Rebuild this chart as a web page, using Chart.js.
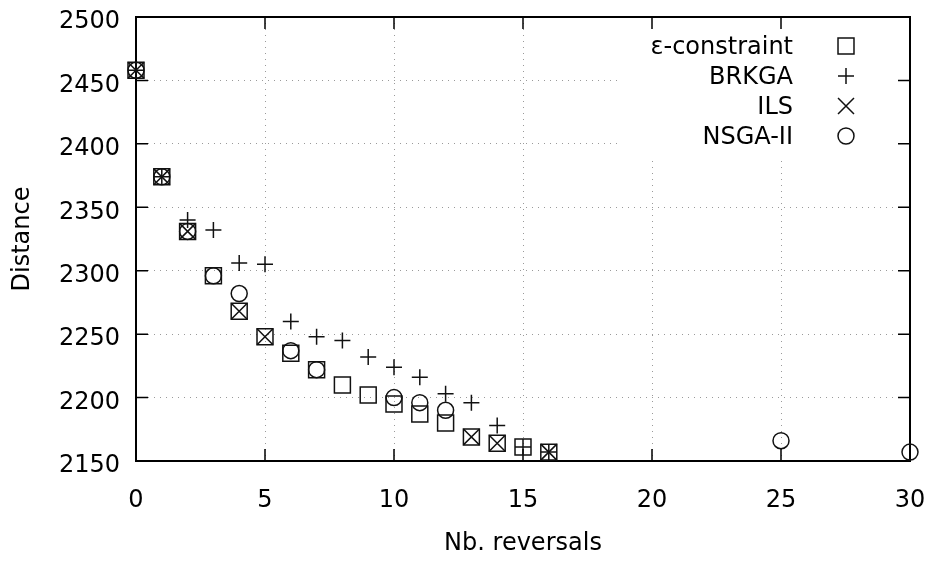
<!DOCTYPE html>
<html>
<head>
<meta charset="utf-8">
<script src="https://cdn.jsdelivr.net/npm/chart.js@4/dist/chart.umd.min.js"></script>
<style>
  body { margin: 0; background: #fff; }
  canvas { display: block; }
</style>
</head>
<body>
<canvas id="chart" width="934" height="561"></canvas>
<script>
// values
const epsReversals = [0, 1, 2, 3, 4, 5, 6, 7, 8, 9, 10, 11, 12, 13, 14, 15, 16];
const epsDistance = [2458, 2374, 2331, 2296, 2268, 2248, 2235, 2222, 2210, 2202, 2195, 2187, 2180, 2169, 2164, 2161, 2157];

const brkgaReversals = [0, 1, 2, 3, 4, 5, 6, 7, 8, 9, 10, 11, 12, 13, 14, 15, 16];
const brkgaDistance = [2458, 2374, 2340, 2332, 2306, 2305, 2260, 2248, 2245, 2232, 2224, 2216, 2203, 2196, 2178, 2161, 2157];

const ilsReversals = [0, 1, 2, 4, 5, 13, 14, 16];
const ilsDistance = [2458, 2374, 2331, 2268, 2248, 2169, 2164, 2157];

const nsgaReversals = [0, 1, 2, 3, 4, 6, 7, 10, 11, 12, 25, 30];
const nsgaDistance = [2458, 2374, 2331, 2296, 2282, 2237, 2222, 2200, 2196, 2190, 2166, 2157];

const seriesNames = ['ε-constraint', 'BRKGA', 'ILS', 'NSGA-II'];
const xTicks = [0, 5, 10, 15, 20, 25, 30];
const yTicks = [2150, 2200, 2250, 2300, 2350, 2400, 2450, 2500];

const FONT = 'DejaVu Sans';
const FSIZE = 24;

function toPoints(xs, ys) {
    return xs.map((x, i) => ({ x: x, y: ys[i] }));
}

function makeSet(label, xs, ys, style, radius) {
    return {
        label: label,
        data: toPoints(xs, ys),
        pointStyle: style,
        pointRadius: radius,
        pointHoverRadius: radius,
        pointBorderWidth: 1.5,
        borderColor: '#111',
        backgroundColor: 'rgba(0,0,0,0)',
        showLine: false,
        clip: false
    };
}

// gnuplot-like frame, inward ticks, and the key in the top-right corner
const framePlugin = {
    id: 'frame',
    beforeDatasetsDraw(chart) {
        const ctx = chart.ctx;
        const a = chart.chartArea;
        const xs = chart.scales.x;
        const ys = chart.scales.y;
        ctx.save();
        // key background hides the grid
        ctx.fillStyle = '#fff';
        ctx.fillRect(620, a.top + 1, a.right - 620 - 1, 158 - a.top);
        ctx.strokeStyle = '#000';
        ctx.lineWidth = 1.5;
        ctx.beginPath();
        xTicks.forEach(v => {
            const p = xs.getPixelForValue(v);
            ctx.moveTo(p, a.bottom); ctx.lineTo(p, a.bottom - 12);
            ctx.moveTo(p, a.top); ctx.lineTo(p, a.top + 12);
        });
        yTicks.forEach(v => {
            const p = ys.getPixelForValue(v);
            ctx.moveTo(a.left, p); ctx.lineTo(a.left + 12, p);
            ctx.moveTo(a.right, p); ctx.lineTo(a.right - 12, p);
        });
        ctx.stroke();
        ctx.lineWidth = 2;
        ctx.strokeRect(a.left, a.top, a.right - a.left, a.bottom - a.top);
        ctx.restore();
    },
    afterDraw(chart) {
        const ctx = chart.ctx;
        ctx.save();
        ctx.font = FSIZE + 'px "' + FONT + '"';
        ctx.textAlign = 'right';
        ctx.textBaseline = 'middle';
        ctx.strokeStyle = '#111';
        ctx.lineWidth = 1.5;
        chart.data.datasets.forEach((ds, i) => {
            const y = 46 + i * 30;
            ctx.fillStyle = '#000';
            ctx.fillText(ds.label, 793, y + 2);
            ctx.fillStyle = 'rgba(0,0,0,0)';
            Chart.helpers.drawPoint(ctx, {
                pointStyle: ds.pointStyle,
                radius: ds.pointRadius,
                borderWidth: 1.5,
                rotation: 0
            }, 846, y);
        });
        ctx.restore();
    }
};

new Chart(document.getElementById('chart'), {
    type: 'scatter',
    data: {
        datasets: [
            makeSet(seriesNames[0], epsReversals, epsDistance, 'rect', 11.3),
            makeSet(seriesNames[1], brkgaReversals, brkgaDistance, 'cross', 8),
            makeSet(seriesNames[2], ilsReversals, ilsDistance, 'crossRot', 11.3),
            makeSet(seriesNames[3], nsgaReversals, nsgaDistance, 'circle', 8)
        ]
    },
    options: {
        responsive: false,
        animation: false,
        devicePixelRatio: 1,
        layout: { padding: { top: 17, right: 24, left: 0, bottom: 0 } },
        plugins: {
            legend: { display: false },
            tooltip: { enabled: false }
        },
        scales: {
            x: {
                type: 'linear',
                min: 0,
                max: 30,
                afterBuildTicks: s => { s.ticks = xTicks.map(v => ({ value: v })); },
                afterFit: s => { s.height = 100; s.paddingLeft = 0; s.paddingRight = 0; },
                grid: { color: '#9a9a9a', lineWidth: 1, drawTicks: false },
                border: { display: false, dash: [1, 5] },
                ticks: { color: '#000', padding: 25, font: { family: FONT, size: FSIZE }, callback: v => String(v) },
                title: {
                    display: true,
                    text: 'Nb. reversals',
                    color: '#000',
                    font: { family: FONT, size: FSIZE },
                    padding: { top: 0, bottom: 3 }
                }
            },
            y: {
                type: 'linear',
                min: 2150,
                max: 2500,
                afterBuildTicks: s => { s.ticks = yTicks.map(v => ({ value: v })); },
                afterFit: s => { s.width = 136; s.paddingTop = 0; s.paddingBottom = 0; },
                grid: { color: '#9a9a9a', lineWidth: 1, drawTicks: false },
                border: { display: false, dash: [1, 5] },
                ticks: { color: '#000', padding: 16, labelOffset: 5, font: { family: FONT, size: FSIZE }, callback: v => String(v) },
                title: {
                    display: true,
                    text: 'Distance',
                    color: '#000',
                    font: { family: FONT, size: FSIZE },
                    padding: { top: 8, bottom: 0 }
                }
            }
        }
    },
    plugins: [framePlugin]
});
</script>
</body>
</html>
